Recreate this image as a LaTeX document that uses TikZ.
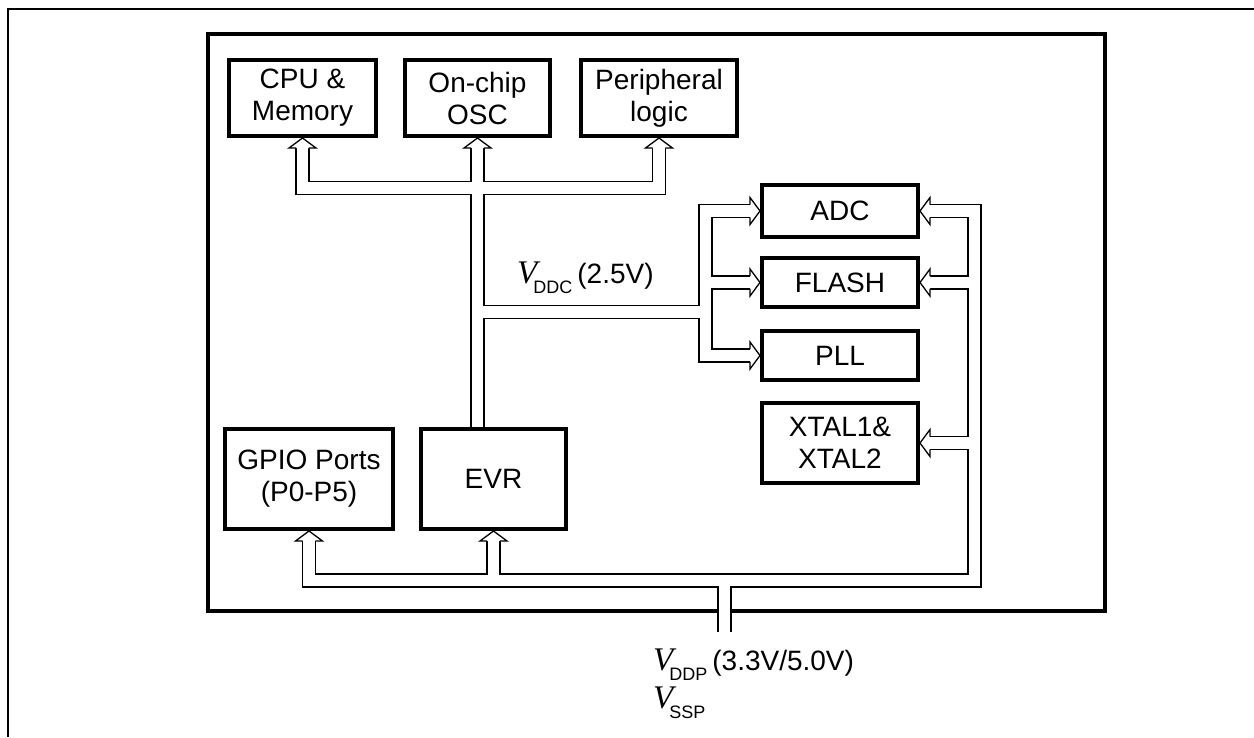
\documentclass[tikz,border=0pt]{standalone}
\usepackage{fontspec}
\setmainfont{Liberation Sans}
\newfontfamily\railfont{Liberation Serif}

\newcommand\vrail[1]{{\railfont\itshape\fontsize{33}{33}\selectfont V}\kern-4pt\raisebox{-10pt}{\fontsize{18}{18}\selectfont #1}}

\newcommand\busnet[1]{%
  \draw[#1,shorten <=10pt,shorten >=10pt] (cpu.south) |- (topbus) -| (periph.south);
  \draw[#1,shorten >=10pt] (osc.south |- evr.north) -- (osc.south);
  \draw[#1] (osc.south |- ddcbus) -- (ddcbus);
  \draw[#1,shorten <=10pt,shorten >=10pt] (adc.west) -| (ddcbus) |- (pll.west);
  \draw[#1,shorten >=10pt] (flash.west -| ddcbus) -- (flash.west);
  \draw[#1,shorten <=10pt,shorten >=10pt] (adc.east) -| (rbus) -| (gpio.south);
  \draw[#1,shorten <=10pt] (flash.east) -- (flash.east -| rbus);
  \draw[#1,shorten <=10pt] (xtal.east) -- (xtal.east -| rbus);
  \draw[#1,shorten <=10pt] (evr.south) -- (evr.south |- rbus);
  \draw[#1] (feed) -- (feed |- rbus);
}

\tikzset{
  blk/.style={draw,line width=4.2pt,inner sep=0pt,align=center,font=\fontsize{28}{32}\selectfont},
  busout/.style={line width=14.1pt,black},
  busin/.style={line width=11.5pt,white},
  hhead/.pic={\draw[line width=1.3pt,fill=white] (-6.4,10) -- (-13.5,10) -- (0,0) -- (13.5,10) -- (6.4,10);},
  lbl/.style={anchor=base west,inner sep=0pt,font=\fontsize{28}{32}\selectfont}
}

\begin{document}
\begin{tikzpicture}[x=1pt,y=-1pt]
  \useasboundingbox (0,0) rectangle (1254,737);
  \draw[line width=2pt] (7.5,737) -- (7.5,8.5) -- (1254,8.5);
  \draw[line width=4pt] (208,34) rectangle (1105,610.5);

  \node[blk,minimum width=146.8pt,minimum height=75.8pt] (cpu) at (302.5,98) {CPU \&\\Memory};
  \node[blk,minimum width=144.8pt,minimum height=75.8pt] (osc) at (477.5,98) {On-chip\\OSC};
  \node[blk,minimum width=155.8pt,minimum height=75.8pt] (periph) at (659,98) {Peripheral\\logic};
  \node[blk,minimum width=155.8pt,minimum height=51.8pt] (adc) at (840,211) {ADC};
  \node[blk,minimum width=155.8pt,minimum height=48.8pt] (flash) at (840,282.5) {FLASH};
  \node[blk,minimum width=155.8pt,minimum height=48.8pt] (pll) at (840,355.5) {PLL};
  \node[blk,minimum width=155.8pt,minimum height=79.8pt] (xtal) at (840,443) {XTAL1\&\\XTAL2};
  \node[blk,minimum width=167.8pt,minimum height=99.8pt] (gpio) at (309,479) {GPIO Ports\\(P0-P5)};
  \node[blk,minimum width=144.8pt,minimum height=99.8pt] (evr) at (493.5,479) {EVR};

  \coordinate (topbus) at (477.5,188);
  \coordinate (ddcbus) at (705.5,312);
  \coordinate (rbus) at (974.5,580.5);
  \coordinate (feed) at (724.5,632);

  \busnet{busout}
  \busnet{busin}

  \foreach \n in {cpu,osc,periph,gpio,evr} \pic at (\n.south) {hhead};
  \foreach \n in {adc,flash,pll} \pic[rotate=-90] at (\n.west) {hhead};
  \foreach \n in {adc,flash,xtal} \pic[rotate=90] at (\n.east) {hhead};

  \node[lbl] (vddc) at (517,283) {\vrail{DDC}\kern5pt(2.5V)};
  \node[lbl] (vddp) at (653,670) {\vrail{DDP}\kern5pt(3.3V/5.0V)};
  \node[lbl] (vssp) at (653,708) {\vrail{SSP}};
\end{tikzpicture}
\end{document}
